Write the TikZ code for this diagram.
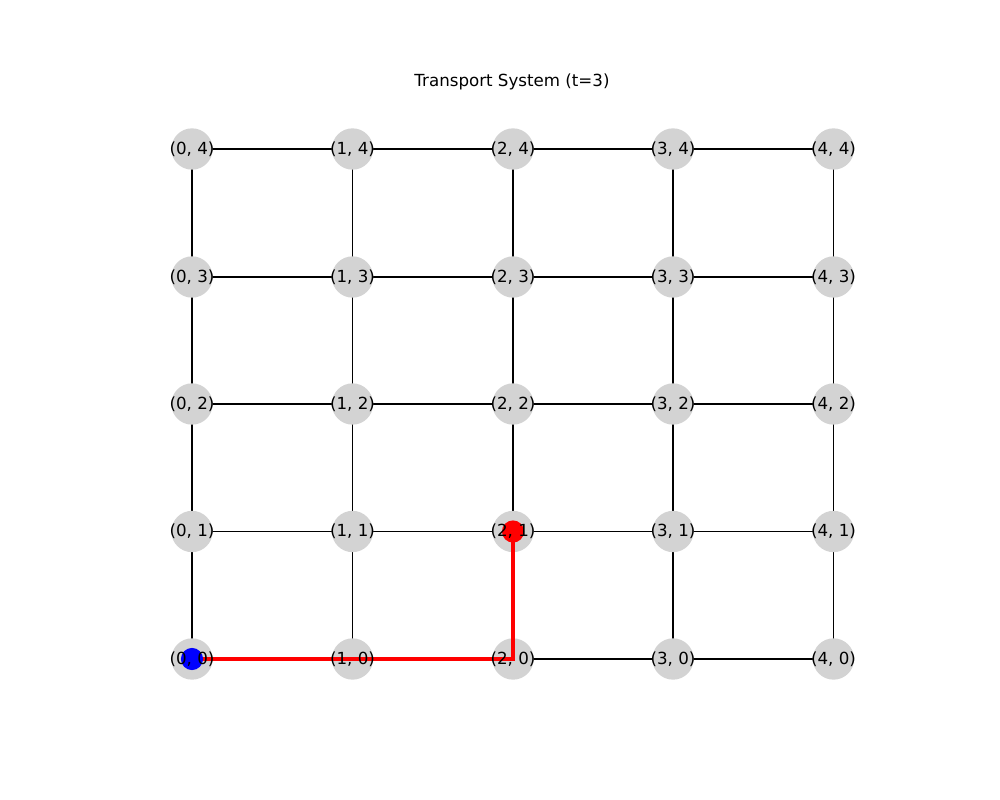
\documentclass[tikz,border=0pt]{standalone}
\usepackage{fontspec}
\setmainfont{DejaVu Sans}
\definecolor{nodegray}{HTML}{D3D3D3}
\begin{document}
\begin{tikzpicture}[x=0.75pt,y=-0.75pt,
  gnode/.style={circle,fill=nodegray,minimum size=31pt,inner sep=0pt},
  glabel/.style={font=\fontsize{12.5}{14}\selectfont,inner sep=0pt},
  edge/.style={black,line width=1.0pt},
  pathedge/.style={red,line width=2.3pt},
  dot/.style={circle,minimum size=16.6pt,inner sep=0pt}]
\useasboundingbox (0,0) rectangle (1000,800);
\node[glabel] (title) at (512,82) {Transport System (t=3)};
% coordinates
\foreach \i/\x in {0/192,1/352.5,2/513,3/673,4/833.5}{
  \foreach \j/\y in {0/659,1/531.5,2/404,3/277,4/149}{
    \coordinate (c\i\j) at (\x,\y);
  }
}
% edges
\foreach \i in {0,...,4}{
  \foreach \j [evaluate=\j as \jn using int(\j+1)] in {0,...,3}{
    \draw[edge] (c\i\j) -- (c\i\jn);
  }
}
\foreach \i [evaluate=\i as \in using int(\i+1)] in {0,...,3}{
  \foreach \j in {0,...,4}{
    \draw[edge] (c\i\j) -- (c\in\j);
  }
}
% nodes
\foreach \i in {0,...,4}{
  \foreach \j in {0,...,4}{
    \node[gnode] (n\i\j) at (c\i\j) {};
  }
}
% path
\draw[pathedge] (n00.center) -- (n10.center) -- (n20.center) -- (n21.center);
\node[dot,fill=blue] (start) at (n00) {};
\node[dot,fill=red] (agent) at (n21) {};
% labels
\foreach \i in {0,...,4}{
  \foreach \j in {0,...,4}{
    \node[glabel] (l\i\j) at (n\i\j) {(\i, \j)};
  }
}
\end{tikzpicture}
\end{document}
